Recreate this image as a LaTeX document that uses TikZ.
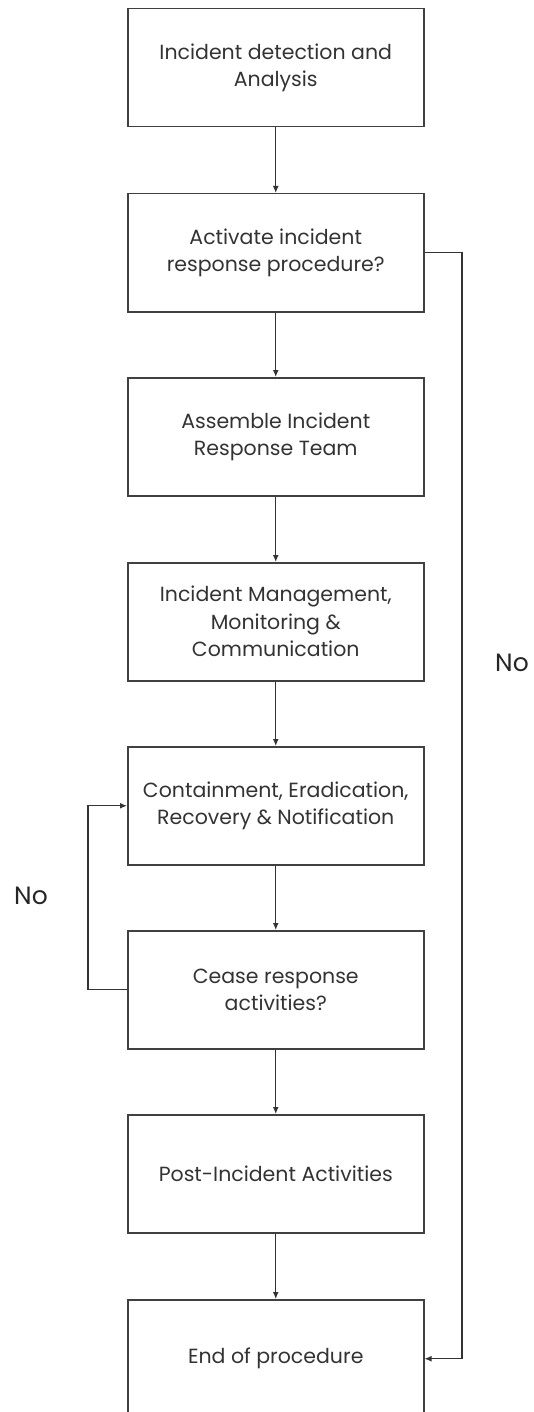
\documentclass[tikz,border=0pt]{standalone}
\usepackage{fontspec}
\setmainfont{Poppins}
\usetikzlibrary{arrows.meta}
\begin{document}
\begin{tikzpicture}[x=1pt,y=-1pt,
  stepbox/.style={draw=black!75, line width=1.5pt, minimum width=296pt, minimum height=118pt, align=center, font=\fontsize{20.5}{27.5}\selectfont, text=black!80, anchor=north west, inner sep=0pt},
  conn/.style={draw=black!80, line width=1.3pt, -{Latex[length=7pt,width=6pt]}},
  lbl/.style={font=\fontsize{25}{27}\selectfont, text=black!85}]
\useasboundingbox (0,0) rectangle (533,1412);
\clip (0,0) rectangle (533,1412);
\node[stepbox] (b1) at (127,8) {Incident detection and\\Analysis};
\node[stepbox] (b2) at (127,193) {Activate incident\\response procedure?};
\node[stepbox] (b3) at (127,377) {Assemble Incident\\Response Team};
\node[stepbox] (b4) at (127,562) {Incident Management,\\Monitoring \&\\Communication};
\node[stepbox] (b5) at (127,746) {Containment, Eradication,\\Recovery \& Notification};
\node[stepbox] (b6) at (127,930) {Cease response\\activities?};
\node[stepbox] (b7) at (127,1114) {Post-Incident Activities};
\node[stepbox] (b8) at (127,1299) {End of procedure};
\draw[conn] (b1) -- (b2);
\draw[conn] (b2) -- (b3);
\draw[conn] (b3) -- (b4);
\draw[conn] (b4) -- (b5);
\draw[conn] (b5) -- (b6);
\draw[conn] (b6) -- (b7);
\draw[conn] (b7) -- (b8);
\coordinate (rR) at (462,0);
\coordinate (lL) at (88,0);
\draw[conn] (b2.east) -- (rR |- b2.east) -- (rR |- b8.east) -- (b8.east);
\draw[conn] (b6.west) -- (lL |- b6.west) -- (lL |- b5.west) -- (b5.west);
\node[lbl] (no1) at (512,663) {No};
\node[lbl] (no2) at (31,896) {No};
\end{tikzpicture}
\end{document}
